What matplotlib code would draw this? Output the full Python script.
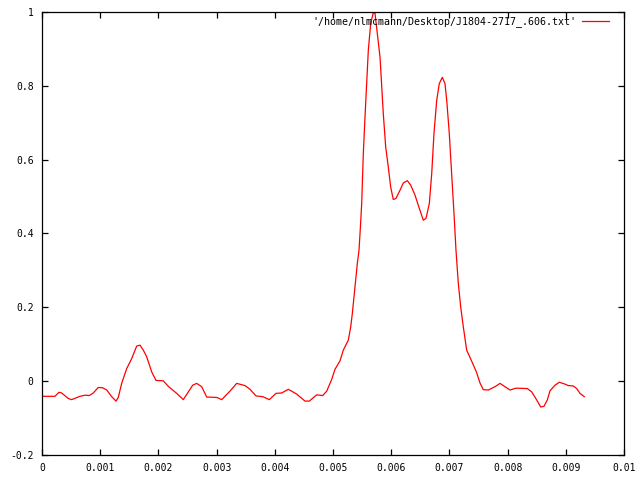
import matplotlib
matplotlib.use("Agg")
import matplotlib.pyplot as plt
from matplotlib.ticker import FixedLocator, FixedFormatter

# datos (tiempo [s], amplitud normalizada)
t = [0.0, 0.0000515, 0.000223, 0.000292, 0.000338, 0.000452, 0.000510, 0.000653,
     0.000739, 0.000813, 0.000881, 0.000967, 0.001043, 0.001112, 0.001198, 0.001271,
     0.001311, 0.001369, 0.001455, 0.001541, 0.001627, 0.001684, 0.001741, 0.001799,
     0.001885, 0.001959, 0.002084, 0.002170, 0.002314, 0.002428, 0.002514, 0.002589,
     0.002658, 0.002744, 0.002830, 0.003002, 0.003088, 0.003230, 0.003345, 0.003488,
     0.003574, 0.003677, 0.003792, 0.003906, 0.004021, 0.004119, 0.004232, 0.004376,
     0.004519, 0.004593, 0.004720, 0.004823, 0.004892, 0.004978, 0.005034, 0.005120,
     0.005177, 0.005263, 0.005304, 0.005332, 0.005361, 0.005390, 0.005418, 0.005447,
     0.005470, 0.005493, 0.005521, 0.005550, 0.005579, 0.005607, 0.005648, 0.005692,
     0.005722, 0.005761, 0.005808, 0.005837, 0.005864, 0.005905, 0.005950, 0.005991,
     0.006036, 0.006082, 0.006151, 0.006208, 0.006277, 0.006335, 0.006409, 0.006483,
     0.006552, 0.006598, 0.006655, 0.006696, 0.006735, 0.006782, 0.006826, 0.006878,
     0.006924, 0.006954, 0.006998, 0.007039, 0.007079, 0.007113, 0.007153, 0.007194,
     0.007239, 0.007297, 0.007383, 0.007464, 0.007526, 0.007582, 0.007668, 0.007784,
     0.007869, 0.007973, 0.008041, 0.008144, 0.008338, 0.008414, 0.008500, 0.008569,
     0.008625, 0.008682, 0.008729, 0.008814, 0.008888, 0.008986, 0.009043, 0.009129,
     0.009187, 0.009244, 0.009318]
amp = [-0.041, -0.041, -0.041, -0.030, -0.032, -0.047, -0.050, -0.041,
       -0.038, -0.039, -0.032, -0.017, -0.018, -0.024, -0.042, -0.054,
       -0.044, -0.006, 0.034, 0.061, 0.095, 0.0975, 0.084, 0.066,
       0.025, 0.002, 0.001, -0.014, -0.033, -0.050, -0.029, -0.011,
       -0.006, -0.015, -0.043, -0.044, -0.050, -0.027, -0.006, -0.012,
       -0.022, -0.040, -0.042, -0.050, -0.033, -0.032, -0.022, -0.035,
       -0.054, -0.054, -0.037, -0.039, -0.027, 0.005, 0.032, 0.055,
       0.084, 0.111, 0.147, 0.183, 0.228, 0.274, 0.319, 0.355,
       0.415, 0.481, 0.617, 0.716, 0.806, 0.897, 0.969, 0.998,
       0.996, 0.942, 0.878, 0.797, 0.725, 0.635, 0.580, 0.526,
       0.492, 0.495, 0.517, 0.537, 0.543, 0.531, 0.504, 0.468,
       0.436, 0.441, 0.481, 0.562, 0.671, 0.761, 0.806, 0.823,
       0.806, 0.761, 0.671, 0.562, 0.454, 0.355, 0.265, 0.201,
       0.147, 0.084, 0.054, 0.025, -0.005, -0.023, -0.024, -0.015,
       -0.006, -0.017, -0.024, -0.019, -0.020, -0.029, -0.051, -0.070,
       -0.068, -0.051, -0.026, -0.011, -0.003, -0.008, -0.012, -0.013,
       -0.020, -0.033, -0.042]

xticks = [0, 0.001, 0.002, 0.003, 0.004, 0.005, 0.006, 0.007, 0.008, 0.009, 0.01]
xlabels = ["0", "0.001", "0.002", "0.003", "0.004", "0.005", "0.006", "0.007",
           "0.008", "0.009", "0.01"]
yticks = [-0.2, 0, 0.2, 0.4, 0.6, 0.8, 1]
ylabels = ["-0.2", "0", "0.2", "0.4", "0.6", "0.8", "1"]
etiqueta = "'/home/nlmcmann/Desktop/J1804-2717_.606.txt'"

fig = plt.figure(figsize=(6.4, 4.8), dpi=100)
ax = fig.add_axes([42/640, 1 - 455/480, (624 - 42)/640, (455 - 12)/480])

ax.plot(t, amp, color="#ff0000", linewidth=0.9, label=etiqueta)

ax.set_xlim(0, 0.01)
ax.set_ylim(-0.2, 1)
ax.xaxis.set_major_locator(FixedLocator(xticks))
ax.xaxis.set_major_formatter(FixedFormatter(xlabels))
ax.yaxis.set_major_locator(FixedLocator(yticks))
ax.yaxis.set_major_formatter(FixedFormatter(ylabels))

ax.tick_params(direction="in", length=4, width=0.9, top=True, right=True,
               labelsize=7, pad=6)
for lab in ax.get_xticklabels() + ax.get_yticklabels():
    lab.set_family("DejaVu Sans Mono")
for s in ax.spines.values():
    s.set_linewidth(0.9)

ax.legend(loc="upper right", bbox_to_anchor=(1 - 8/582, 1 + 3/443), frameon=False,
          markerfirst=False, handlelength=2.7, handletextpad=0.55, borderaxespad=0.3,
          prop={"family": "DejaVu Sans Mono", "size": 7.2})

fig.savefig("out.png", dpi=100)
